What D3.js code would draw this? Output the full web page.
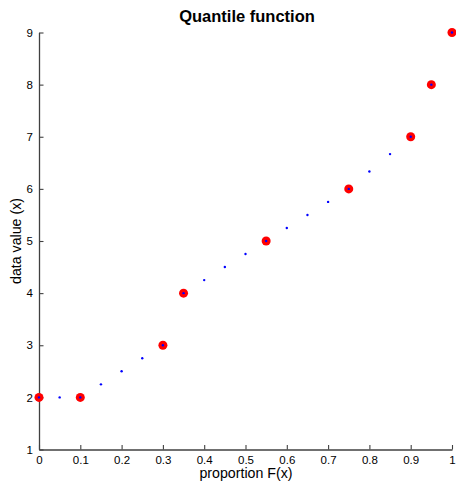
<!DOCTYPE html>
<html>
<head>
<meta charset="utf-8">
<script src="https://cdn.jsdelivr.net/npm/d3@7"></script>
<style>
  html, body { margin: 0; padding: 0; background: #fff; }
  text { font-family: "Liberation Sans", Arial, sans-serif; fill: #000; }
</style>
</head>
<body>
<svg id="chart" width="456" height="484"></svg>
<script>
// Sample quantiles (data points) and interpolated quantile function
const sampleP = [0, 0.1, 0.3, 0.35, 0.55, 0.75, 0.9, 0.95, 1];
const sampleX = [2, 2, 3, 4, 5, 6, 7, 8, 9];
const gridP = [0, 0.05, 0.1, 0.15, 0.2, 0.25, 0.3, 0.35, 0.4, 0.45, 0.5,
               0.55, 0.6, 0.65, 0.7, 0.75, 0.8, 0.85, 0.9, 0.95, 1];
const gridX = [2, 2, 2, 2.25, 2.5, 2.75, 3, 4, 4.25, 4.5, 4.75,
               5, 5.25, 5.5, 5.75, 6, 6.333, 6.667, 7, 8, 9];
const xTicks = [0, 0.1, 0.2, 0.3, 0.4, 0.5, 0.6, 0.7, 0.8, 0.9, 1];
const yTicks = [1, 2, 3, 4, 5, 6, 7, 8, 9];

const svg = d3.select("#chart");
const plotLeft = 39, plotRight = 452, plotTop = 32.5, plotBottom = 449.5;

const x = d3.scaleLinear().domain([0, 1]).range([plotLeft, plotRight]);
const y = d3.scaleLinear().domain([1, 9]).range([plotBottom, plotTop]);

const axisColor = "#404040";

// Bottom axis, ticks pointing inward
const gx = svg.append("g")
  .attr("transform", `translate(0,${plotBottom})`)
  .call(d3.axisBottom(x).tickValues(xTicks).tickSizeInner(-4.5).tickSizeOuter(0)
        .tickPadding(5).tickFormat(d => d === 0 || d === 1 ? String(d) : d3.format(".1f")(d)));
gx.select(".domain").attr("stroke", axisColor).attr("stroke-width", 1.3);
gx.selectAll(".tick line").attr("stroke", axisColor).attr("stroke-width", 1.1);
gx.selectAll(".tick text").attr("font-size", 11.5).attr("dy", "0.85em")
  .attr("font-family", "Liberation Sans, Arial, sans-serif").attr("fill", "#111");

// Left axis, ticks pointing inward
const gy = svg.append("g")
  .attr("transform", `translate(${plotLeft},0)`)
  .call(d3.axisLeft(y).tickValues(yTicks).tickSizeInner(-4.5).tickSizeOuter(0)
        .tickPadding(6).tickFormat(d3.format("d")));
gy.select(".domain").attr("stroke", axisColor).attr("stroke-width", 1.3);
gy.selectAll(".tick line").attr("stroke", axisColor).attr("stroke-width", 1.1);
gy.selectAll(".tick text").attr("font-size", 11.5)
  .attr("font-family", "Liberation Sans, Arial, sans-serif").attr("fill", "#111");

// Sample quantile markers
svg.append("g").selectAll("circle")
  .data(sampleP.map((p, i) => [p, sampleX[i]]))
  .join("circle")
  .attr("cx", d => x(d[0]))
  .attr("cy", d => y(d[1]))
  .attr("r", 4.5)
  .attr("fill", "#ff0000");

// Interpolated quantile function points
svg.append("g").selectAll("circle")
  .data(gridP.map((p, i) => [p, gridX[i]]))
  .join("circle")
  .attr("cx", d => x(d[0]))
  .attr("cy", d => y(d[1]))
  .attr("r", 1.2)
  .attr("fill", "#0000ff");

// Title and axis labels
svg.append("text")
  .attr("x", 247).attr("y", 22)
  .attr("text-anchor", "middle")
  .attr("font-size", 16.5).attr("font-weight", "bold")
  .text("Quantile function");

svg.append("text")
  .attr("x", 246).attr("y", 478)
  .attr("text-anchor", "middle")
  .attr("font-size", 14.2)
  .text("proportion F(x)");

svg.append("text")
  .attr("transform", `translate(21,${(plotTop + plotBottom) / 2}) rotate(-90)`)
  .attr("text-anchor", "middle")
  .attr("font-size", 14.2)
  .text("data value (x)");
</script>
</body>
</html>
